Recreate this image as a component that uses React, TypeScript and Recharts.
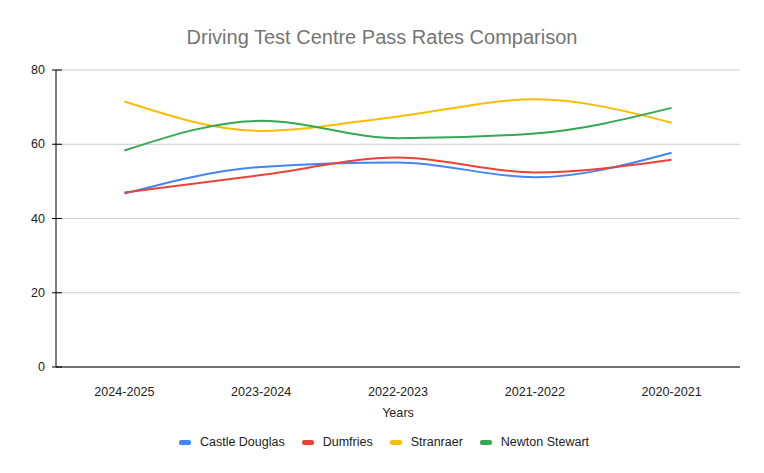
import { LineChart, Line, XAxis, YAxis, CartesianGrid } from "recharts";

const categories = ["2024-2025", "2023-2024", "2022-2023", "2021-2022", "2020-2021"];
const castleDouglas = [46.7, 53.9, 55.1, 51.1, 57.7];
const dumfries = [47.0, 51.7, 56.4, 52.4, 55.8];
const stranraer = [71.5, 63.6, 67.5, 72.1, 65.8];
const newtonStewart = [58.3, 66.3, 61.6, 62.9, 69.8];
const yTicks = [0, 20, 40, 60, 80];

const SERIES = [
  { key: "castleDouglas", name: "Castle Douglas", color: "#4285f4", values: castleDouglas },
  { key: "dumfries", name: "Dumfries", color: "#ea4335", values: dumfries },
  { key: "stranraer", name: "Stranraer", color: "#fbbc04", values: stranraer },
  { key: "newtonStewart", name: "Newton Stewart", color: "#34a853", values: newtonStewart },
];

const FONT = "'Liberation Sans', Arial, sans-serif";

const data = categories.map((year, i) => {
  const row: Record<string, string | number> = { year };
  SERIES.forEach((s) => (row[s.key] = s.values[i]));
  return row;
});

function YTick({ x, y, payload }: any) {
  return (
    <g>
      <line x1={x - 4} x2={x + 6} y1={y} y2={y} stroke="#000" />
      <text x={x - 11} y={y} dy={4} textAnchor="end" fontSize={12.5} fill="#222" fontFamily={FONT}>
        {payload.value}
      </text>
    </g>
  );
}

function XTick({ x, y, payload }: any) {
  return (
    <text x={x} y={y} dy={28} textAnchor="middle" fontSize={12.6} fill="#222" fontFamily={FONT}>
      {payload.value}
    </text>
  );
}

export default function App() {
  return (
    <div style={{ position: "absolute", left: 0, top: 0, width: 764, height: 473, background: "#fff", fontFamily: FONT }}>
      <div
        style={{
          position: "absolute",
          top: 25,
          left: 0,
          width: 764,
          textAlign: "center",
          fontSize: 20,
          lineHeight: "24px",
          color: "#757575",
        }}
      >
        Driving Test Centre Pass Rates Comparison
      </div>
      <LineChart width={764} height={473} data={data} margin={{ top: 70, right: 24, bottom: 76, left: 0 }}>
        <CartesianGrid vertical={false} stroke="#cccccc" />
        <XAxis
          dataKey="year"
          scale="band"
          axisLine={{ stroke: "#000" }}
          tickLine={false}
          tick={(p: any) => <XTick {...p} y={p.y - 7} />}
          height={30}
          interval={0}
          label={{ value: "Years", position: "bottom", offset: 11, fontSize: 12.6, fill: "#222", fontFamily: FONT }}
        />
        <YAxis
          domain={[0, 80]}
          ticks={yTicks}
          width={56}
          axisLine={{ stroke: "#000" }}
          tickLine={false}
          tickSize={0}
          tickMargin={0}
          tick={<YTick />}
        />
        {SERIES.map((s) => (
          <Line
            key={s.key}
            type="monotone"
            dataKey={s.key}
            name={s.name}
            stroke={s.color}
            strokeWidth={2}
            dot={false}
            isAnimationActive={false}
          />
        ))}
      </LineChart>
      <div
        style={{
          position: "absolute",
          top: 434,
          left: 0,
          width: 768,
          display: "flex",
          justifyContent: "center",
          fontSize: 12.5,
          color: "#222",
          lineHeight: "16px",
        }}
      >
        {SERIES.map((s) => (
          <span key={s.key} style={{ display: "flex", alignItems: "center", margin: "0 8.5px" }}>
            <span style={{ width: 12, height: 5, borderRadius: 2, background: s.color, marginRight: 9 }} />
            {s.name}
          </span>
        ))}
      </div>
    </div>
  );
}
